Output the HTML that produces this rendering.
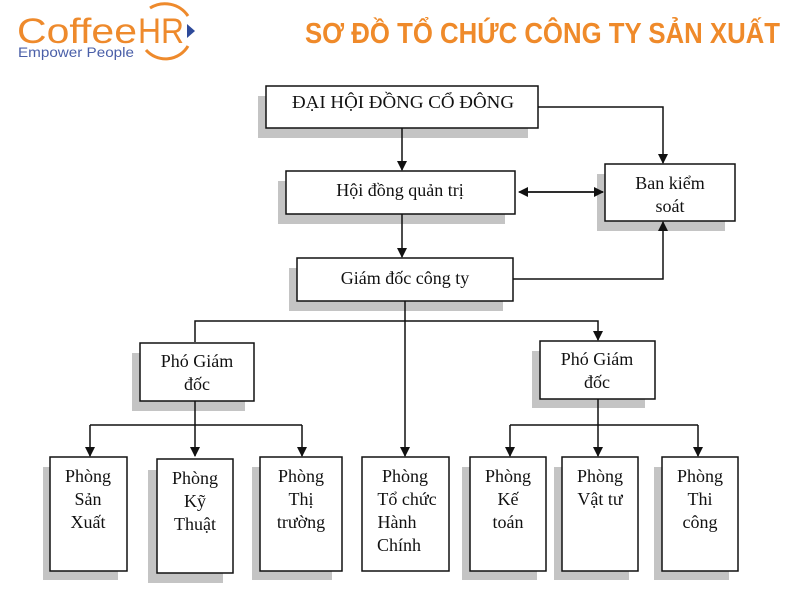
<!DOCTYPE html>
<html><head><meta charset="utf-8"><style>
html,body{margin:0;padding:0;background:#fff;width:800px;height:600px;overflow:hidden}
svg text{font-family:"Liberation Serif",serif;fill:#111}
</style></head><body>
<svg width="800" height="600" xmlns="http://www.w3.org/2000/svg">
<defs><marker id="a" markerWidth="10" markerHeight="10" refX="9" refY="5" orient="auto" markerUnits="userSpaceOnUse"><path d="M0,0 L10,5 L0,10 z" fill="#111"/></marker></defs>
<!-- logo -->
<text x="17" y="43" textLength="120" lengthAdjust="spacingAndGlyphs" style="font-family:'Liberation Sans',sans-serif;font-size:35px;fill:#ee8a2c">Coffee</text>
<text x="138" y="43" textLength="46" lengthAdjust="spacingAndGlyphs" style="font-family:'Liberation Sans',sans-serif;font-size:35px;fill:#ee8a2c">HR</text>
<path d="M150,8 A28,28 0 0 1 188,16" fill="none" stroke="#ee8a2c" stroke-width="3"/>
<path d="M146,50 A26,26 0 0 0 188,46" fill="none" stroke="#ee8a2c" stroke-width="3"/>
<path d="M187,24 L195,31 L187,38 z" fill="#2e4a9a"/>
<text x="18" y="57" textLength="116" lengthAdjust="spacingAndGlyphs" style="font-family:'Liberation Sans',sans-serif;font-size:14px;fill:#4a5fa8">Empower People</text>
<text x="780" y="43" text-anchor="end" textLength="475" lengthAdjust="spacingAndGlyphs" style="font-family:'Liberation Sans',sans-serif;font-weight:bold;font-size:29px;fill:#ef8a2a">SƠ ĐỒ TỔ CHỨC CÔNG TY SẢN XUẤT</text>
<g fill="#c4c4c4">
<rect x="258" y="96" width="270" height="42"/><rect x="278" y="181" width="227" height="43"/>
<rect x="597" y="174" width="128" height="57"/><rect x="289" y="268" width="214" height="43"/>
<rect x="132" y="353" width="113" height="58"/><rect x="532" y="351" width="113" height="57"/>
<rect x="43" y="467" width="75" height="113"/><rect x="148" y="470" width="75" height="113"/>
<rect x="252" y="467" width="80" height="113"/><rect x="462" y="467" width="75" height="113"/>
<rect x="554" y="467" width="75" height="113"/><rect x="654" y="467" width="75" height="113"/>
</g>
<g fill="#fff" stroke="#111" stroke-width="1.5">
<rect x="266" y="86" width="272" height="42"/><rect x="286" y="171" width="229" height="43"/>
<rect x="605" y="164" width="130" height="57"/><rect x="297" y="258" width="216" height="43"/>
<rect x="140" y="343" width="114" height="58"/><rect x="540" y="341" width="115" height="58"/>
<rect x="50" y="457" width="77" height="114"/><rect x="157" y="459" width="76" height="114"/>
<rect x="260" y="457" width="82" height="114"/><rect x="362" y="457" width="87" height="114"/>
<rect x="470" y="457" width="76" height="114"/><rect x="562" y="457" width="76" height="114"/>
<rect x="662" y="457" width="76" height="114"/>
</g>
<g fill="none" stroke="#111" stroke-width="1.5">
<path d="M402,128 V170" marker-end="url(#a)"/><path d="M402,214 V257" marker-end="url(#a)"/>
<path d="M538,107 H663 V163" marker-end="url(#a)"/><path d="M513,279 H663 V222" marker-end="url(#a)"/>
<path d="M520,192 H603" marker-end="url(#a)"/><path d="M603,192 H519" marker-end="url(#a)"/>
<path d="M405,301 V456" marker-end="url(#a)"/>
<path d="M195,342 V321 H598 V340" marker-end="url(#a)"/>
<path d="M195,401 V456" marker-end="url(#a)"/><path d="M90,425 H302"/>
<path d="M90,425 V456" marker-end="url(#a)"/><path d="M302,425 V456" marker-end="url(#a)"/>
<path d="M598,399 V456" marker-end="url(#a)"/><path d="M510,425 H698"/>
<path d="M510,425 V456" marker-end="url(#a)"/><path d="M698,425 V456" marker-end="url(#a)"/>
</g>
<g font-size="18" text-anchor="middle">
<text x="403" y="108" textLength="222" lengthAdjust="spacingAndGlyphs">ĐẠI HỘI ĐỒNG CỔ ĐÔNG</text>
<text x="400" y="196">Hội đồng quản trị</text>
<text x="670" y="189">Ban kiểm</text><text x="670" y="212">soát</text>
<text x="405" y="284">Giám đốc công ty</text>
<text x="197" y="367">Phó Giám</text><text x="197" y="390">đốc</text>
<text x="597" y="365">Phó Giám</text><text x="597" y="388">đốc</text>
<text x="88" y="482">Phòng</text><text x="88" y="505">Sản</text><text x="88" y="528">Xuất</text>
<text x="195" y="484">Phòng</text><text x="195" y="507">Kỹ</text><text x="195" y="530">Thuật</text>
<text x="301" y="482">Phòng</text><text x="301" y="505">Thị</text><text x="301" y="528">trường</text>
<text x="405" y="482">Phòng</text><text x="407" y="505">Tổ chức</text><text x="397" y="528">Hành</text><text x="399" y="551">Chính</text>
<text x="508" y="482">Phòng</text><text x="508" y="505">Kế</text><text x="508" y="528">toán</text>
<text x="600" y="482">Phòng</text><text x="600" y="505">Vật tư</text>
<text x="700" y="482">Phòng</text><text x="700" y="505">Thi</text><text x="700" y="528">công</text>
</g>
</svg>
</body></html>
